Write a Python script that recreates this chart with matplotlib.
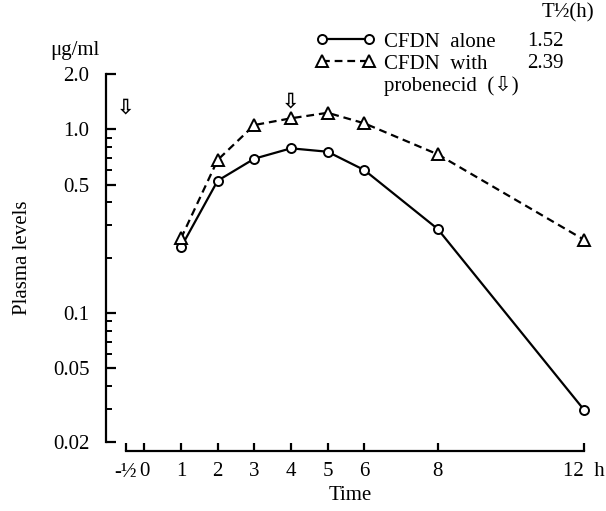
import numpy as np
import matplotlib.pyplot as plt
from matplotlib.lines import Line2D
from matplotlib.ticker import FixedLocator, NullFormatter

plt.rcParams['font.family'] = ['Liberation Serif', 'DejaVu Sans']

# data
time = [1, 2, 3, 4, 5, 6, 8, 12]
cfdn_alone = [0.228, 0.525, 0.692, 0.788, 0.755, 0.600, 0.287, 0.0296]
cfdn_probenecid = [0.255, 0.681, 1.055, 1.148, 1.23, 1.078, 0.731, 0.250]
half_life = ['1.52', '2.39']

xticks = [-0.5, 0, 1, 2, 3, 4, 5, 6, 8, 12]
xtick_labels = ['-½', '0', '1', '2', '3', '4', '5', '6', '8', '12  h']
yticks_major = [0.02, 0.05, 0.1, 0.5, 1.0, 2.0]
ytick_labels = ['0.02', '0.05', '0.1', '0.5', '1.0', '2.0']
yticks_minor = [0.03, 0.04, 0.06, 0.07, 0.08, 0.09, 0.2, 0.3, 0.4, 0.6, 0.7, 0.8, 0.9]

# probenecid doses (hollow arrows)
dose_times = [-0.5, 4]
dose_levels = [1.31, 1.41]

FS = 15

fig = plt.figure(figsize=(6.06, 5.11), dpi=100)
ax = fig.add_axes([0.1749, 0.136, 0.8075, 0.7192])

l1, = ax.plot(time, cfdn_alone, color='black', lw=1.6, marker='o', ms=6.5,
              mfc='white', mec='black', mew=1.4)
l2, = ax.plot(time, cfdn_probenecid, color='black', lw=1.6, ls=(0, (3.5, 2.2)),
              marker='^', ms=8, mfc='white', mec='black', mew=1.4)

for t, v in zip(dose_times, dose_levels):
    ax.text(t, v, '⇩', ha='center', va='center', fontsize=15,
            family=['DejaVu Sans'], fontweight='bold')

ax.set_yscale('log')
ax.set_xlim(-1.045, 12.3)
ax.set_ylim(0.02, 2.0)

for s in ['top', 'right']:
    ax.spines[s].set_visible(False)
ax.spines['left'].set_bounds(0.02, 2.0)
ax.spines['bottom'].set_bounds(-0.5, 12)
ax.spines['bottom'].set_position(('outward', 7))
for s in ['left', 'bottom']:
    ax.spines[s].set_linewidth(1.6)

ax.yaxis.set_major_locator(FixedLocator(yticks_major))
ax.yaxis.set_minor_locator(FixedLocator(yticks_minor))
ax.set_yticklabels(ytick_labels)
ax.yaxis.set_minor_formatter(NullFormatter())
ax.set_xticks(xticks)
ax.set_xticklabels(xtick_labels)

ax.tick_params(axis='y', which='major', direction='in', length=7, width=1.6,
               labelsize=FS, pad=12)
ax.tick_params(axis='y', which='minor', direction='in', length=4.5, width=1.4)
ax.tick_params(axis='x', which='major', direction='in', length=6, width=1.6,
               labelsize=FS, pad=8)

ax.set_xlabel('Time', fontsize=FS, labelpad=3)
ax.set_ylabel('Plasma levels', fontsize=FS, labelpad=15)

fig.text(50 / 606, 1 - 50 / 511, 'μg/ml', fontsize=FS, ha='left', va='center')

# legend
blank = Line2D([], [], color='none')
ax.legend([l1, l2, blank], ['CFDN  alone', 'CFDN  with', 'probenecid  (⇩)'],
          loc='upper left', bbox_to_anchor=(316 / 606, 1 - 32 / 511),
          bbox_transform=fig.transFigure, frameon=False, fontsize=FS,
          numpoints=2, handlelength=2.85, handletextpad=0.4,
          labelspacing=0.12, borderpad=0, borderaxespad=0)
fig.text(568 / 606, 1 - 13 / 511, 'T½(h)', fontsize=FS, ha='center', va='center')
for i, hl in enumerate(half_life):
    fig.text(527 / 606, 1 - (41 + 22 * i) / 511, hl, fontsize=FS,
             ha='left', va='center')

fig.savefig('out.png', dpi=100)
